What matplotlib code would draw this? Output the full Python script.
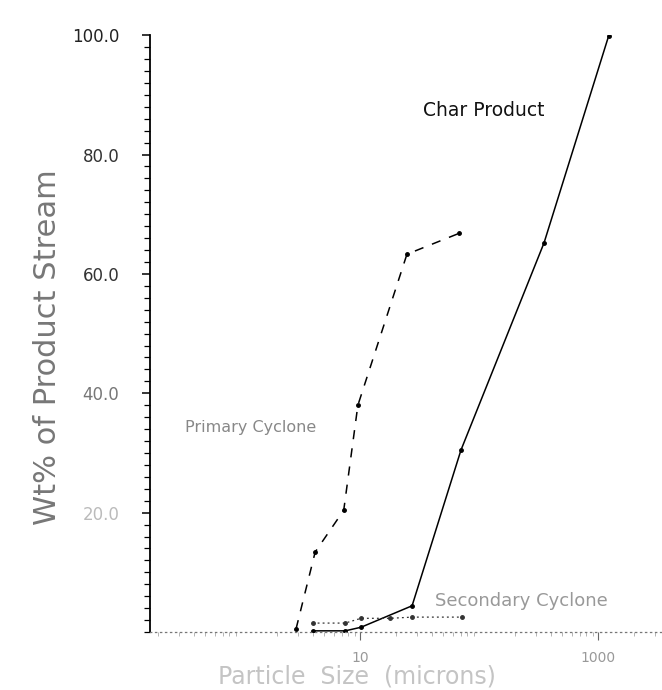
import numpy as np
import matplotlib
matplotlib.use("Agg")
import matplotlib.pyplot as plt

# ------------------------------------------------------------
# Daten

# Primary Cyclone
primary_size = [2.9, 4.2, 7.3, 9.6, 24.8, 68.0]
primary_wt = [0.5, 13.4, 20.4, 38.0, 63.3, 66.8]

# Char Product
char_size = [4.0, 7.5, 10.2, 27.4, 70.6, 352.0, 1230.0]
char_wt = [0.2, 0.2, 0.8, 4.4, 30.5, 65.2, 99.9]

# Secondary Cyclone
secondary_size = [4.0, 7.5, 10.2, 18.0, 27.4, 72.0]
secondary_wt = [1.5, 1.5, 2.3, 2.3, 2.5, 2.5]

x_ticks = [10, 1000]
x_ticklabels = ["10", "1000"]
y_ticks = [20, 40, 60, 80, 100]
y_ticklabels = ["20.0", "40.0", "60.0", "80.0", "100.0"]


def main():
    fig = plt.figure(figsize=(6.62, 6.90), dpi=100)
    ax = fig.add_axes([0.2266, 0.084, 0.7734, 0.865])

    ax.plot(char_size, char_wt, color="black", lw=1.1,
            marker="o", ms=2.5)
    ax.plot(primary_size, primary_wt, color="black", lw=1.1,
            ls=(0, (6, 6)), marker="o", ms=2.5)
    ax.plot(secondary_size, secondary_wt, color="#333333", lw=0.9,
            ls=(0, (1.5, 2.5)), marker="o", ms=2.5)

    ax.set_xscale("log")
    ax.set_xlim(0.172, 3450)
    ax.set_ylim(0, 100)

    # Achsen
    for s in ["top", "right"]:
        ax.spines[s].set_visible(False)
    ax.spines["left"].set_linewidth(1.3)
    ax.spines["bottom"].set_color("#777777")
    ax.spines["bottom"].set_linestyle((0, (1, 3)))
    ax.spines["bottom"].set_linewidth(0.9)

    ax.set_yticks(y_ticks)
    ax.set_yticklabels(y_ticklabels, fontsize=12, color="#222222")
    ax.set_yticks(np.arange(0, 100, 2), minor=True)
    ax.tick_params(axis="y", which="major", length=6, width=1.1, pad=16)
    ax.tick_params(axis="y", which="minor", length=4, width=0.9)
    for lab, col in zip(ax.get_yticklabels(),
                        ["#bbbbbb", "#777777", "#333333", "#333333", "#222222"]):
        lab.set_color(col)

    ax.set_xticks(x_ticks)
    ax.set_xticklabels(x_ticklabels, fontsize=10, color="#999999")
    ax.tick_params(axis="x", which="major", length=6, color="#666666", pad=8)
    ax.tick_params(axis="x", which="minor", length=3, color="#aaaaaa")

    ax.set_ylabel("Wt% of Product Stream", fontsize=22, color="#777777")
    ax.yaxis.set_label_coords(-0.172, 0.477)
    ax.set_xlabel("Particle  Size  (microns)", fontsize=17, color="#c4c4c4")
    ax.xaxis.set_label_coords(0.404, -0.055)

    # Beschriftungen der Kurven
    ax.text(33.8, 87.4, "Char Product", fontsize=13.5, color="#111111",
            va="center")
    ax.text(0.339, 34.2, "Primary Cyclone", fontsize=11.5, color="#888888",
            va="center")
    ax.text(42.7, 5.2, "Secondary Cyclone", fontsize=13, color="#999999",
            va="center")

    fig.savefig("out.png", dpi=100)


if __name__ == "__main__":
    main()
